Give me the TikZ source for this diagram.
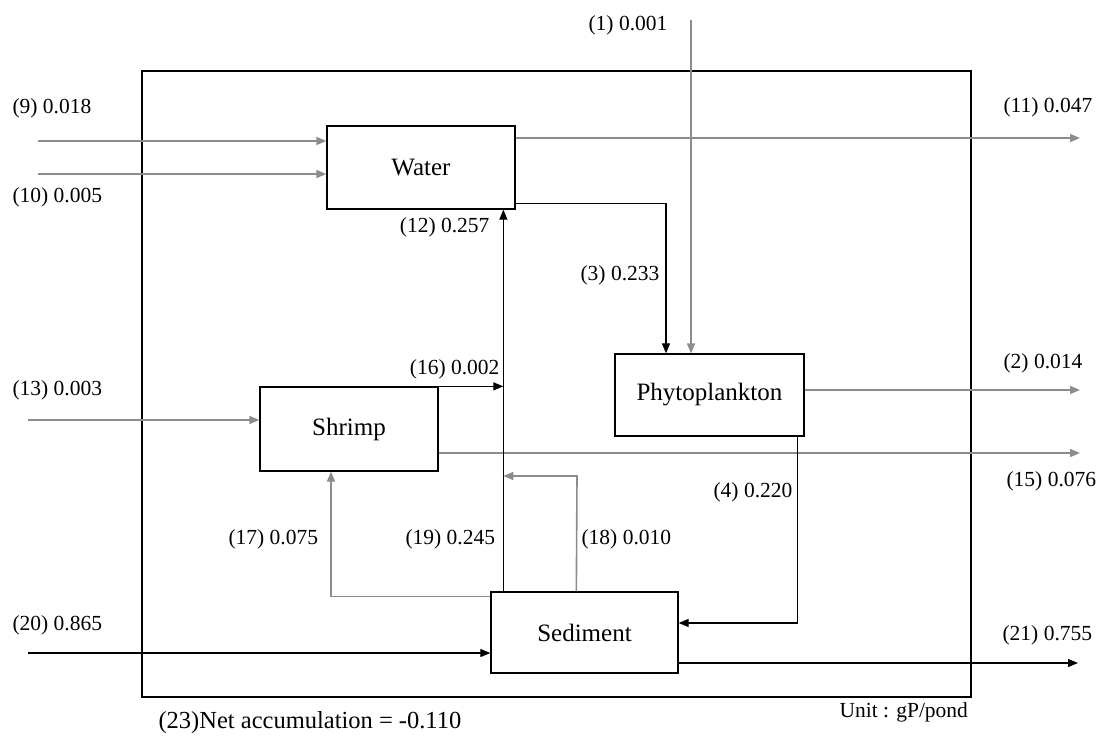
\documentclass[tikz,border=0pt]{standalone}
\usepackage{fontspec}
\setmainfont{Liberation Serif}
\usetikzlibrary{arrows.meta}

\begin{document}
\begin{tikzpicture}[x=1pt, y=-1pt,
  >={Triangle[length=10pt,width=8pt]},
  line width=1.1pt,
  box/.style={draw, line width=1.3pt, inner sep=0pt, font=\fontsize{25}{30}\selectfont},
  lbl/.style={inner sep=0pt, font=\fontsize{21.5}{26}\selectfont},
  gflow/.style={draw=black!45, line width=1.6pt}]
\useasboundingbox (0,0) rectangle (1108,742);

\node[draw, line width=1.3pt, minimum width=829pt, minimum height=626pt] (pond) at (556.5,384) {};

\node[box, minimum width=188pt, minimum height=83pt] (water) at (421,167.5) {Water};
\node[box, minimum width=189pt, minimum height=82pt] (phyto) at (709.5,395) {Phytoplankton};
\node[box, minimum width=178pt, minimum height=84pt] (shrimp) at (349,429) {Shrimp};
\node[box, minimum width=187pt, minimum height=81pt] (sediment) at (584.5,632.5) {Sediment};

\coordinate (in9) at (38,141);
\coordinate (in10) at (38,174);
\coordinate (in1) at (691,20);
\coordinate (in13) at (28,420);
\coordinate (in20) at (28,653);
\coordinate (out11) at (1080,138);
\coordinate (out2) at (1080,390);
\coordinate (out15) at (1080,453);
\coordinate (out21) at (1078,663);
\coordinate (riser) at ([xshift=13pt]sediment.north west);
\coordinate (back18) at (577,476);

\draw[gflow,->] (in9) -- (water.west |- in9);
\draw[gflow,->] (in10) -- (water.west |- in10);
\draw[gflow,->] (water.east |- out11) -- (out11);
\draw[gflow,->] (in1) -- (in1 |- phyto.north);
\draw[->] ([yshift=6pt]water.south east) -| ([xshift=-43.5pt]phyto.north);
\draw[gflow,->] (phyto.east |- out2) -- (out2);

\draw[gflow,->] (in13) -- (shrimp.west |- in13);
\draw[->] (shrimp.north east) -- (shrimp.north east -| riser);
\draw[gflow,->] (shrimp.east |- out15) -- (out15);

\draw[->] (riser) -- (riser |- water.south);
\draw[gflow,->] ([xshift=86pt]sediment.north west) -- (back18) -- (riser |- back18);
\draw[gflow,->] ([yshift=-5pt]sediment.north west) -| ([xshift=-18pt]shrimp.south);
\draw[->] ([xshift=-7pt]phyto.south east) |- ([yshift=9.5pt]sediment.east);

\draw[->] (in20) -- (sediment.west |- in20);
\draw[->] (sediment.east |- out21) -- (out21);

% flow labels
\node[lbl, anchor=west] (l9) at (12,108) {(9) 0.018};
\node[lbl, anchor=west] (l10) at (12,197) {(10) 0.005};
\node[lbl, anchor=west] (l11) at (1003,107) {(11) 0.047};
\node[lbl, anchor=west] (l1) at (588,25) {(1) 0.001};
\node[lbl, anchor=west] (l3) at (580,275) {(3) 0.233};
\node[lbl, anchor=east] (l12) at (490,227) {(12) 0.257};
\node[lbl, anchor=east] (l16) at (500,369) {(16) 0.002};
\node[lbl, anchor=west] (l13) at (12,390) {(13) 0.003};
\node[lbl, anchor=west] (l2) at (1003,363) {(2) 0.014};
\node[lbl, anchor=west] (l15) at (1006,481) {(15) 0.076};
\node[lbl, anchor=west] (l4) at (713,492) {(4) 0.220};
\node[lbl, anchor=west] (l17) at (228,539) {(17) 0.075};
\node[lbl, anchor=west] (l19) at (405,539) {(19) 0.245};
\node[lbl, anchor=west] (l18) at (581,539) {(18) 0.010};
\node[lbl, anchor=west] (l20) at (12,625) {(20) 0.865};
\node[lbl, anchor=west] (l21) at (1002,635) {(21) 0.755};

\node[lbl, anchor=west] (unit) at (839,712) {Unit : gP/pond};
\node[lbl, anchor=west, font=\fontsize{24.5}{29}\selectfont] (net) at (158,723) {(23)Net accumulation = -0.110};
\end{tikzpicture}
\end{document}
